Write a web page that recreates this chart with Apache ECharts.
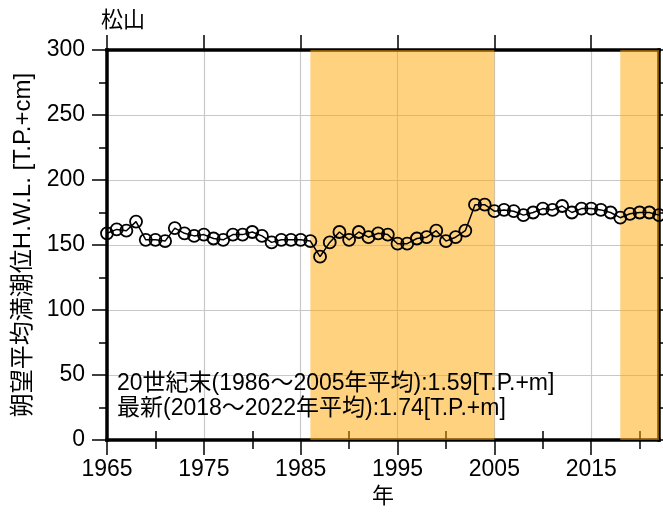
<!DOCTYPE html>
<html>
<head>
<meta charset="utf-8">
<script src="https://cdn.jsdelivr.net/npm/echarts@6/dist/echarts.min.js"></script>
<style>html,body{margin:0;padding:0;background:#fff}#c{width:663px;height:512px}</style>
</head>
<body>
<div id="c"></div>
<script>
const years = [1965,1966,1967,1968,1969,1970,1971,1972,1973,1974,1975,1976,1977,1978,1979,1980,1981,1982,1983,1984,1985,1986,1987,1988,1989,1990,1991,1992,1993,1994,1995,1996,1997,1998,1999,2000,2001,2002,2003,2004,2005,2006,2007,2008,2009,2010,2011,2012,2013,2014,2015,2016,2017,2018,2019,2020,2021,2022];
const hwl = [159,162,161,168,154,154,153,163,159,157,158,155,154,158,158,160,157,152,154,154,154,153,141,152,160,154,160,156,159,158,151,151,155,156,161,153,156,161,181,181,176,177,176,173,175,178,177,180,175,178,178,177,175,171,174,175,175,173];
const xMajorTicks = [1965,1975,1985,1995,2005,2015];
const xMinorTicks = [1970,1980,1990,2000,2010,2020];
const shadePeriods = [[1986,2005],[2018,2022]];
const notes = ['20世紀末(1986～2005年平均):1.59[T.P.+m]','最新(2018～2022年平均):1.74[T.P.+m]'];
const titleText = '松山';
const yName = '朔望平均満潮位H.W.L. [T.P.+cm]';
const xName = '年';

const FF = "'Liberation Sans', Arial, 'Noto Sans CJK JP', sans-serif";
const chart = echarts.init(document.getElementById('c'), null, {renderer:'canvas'});
const axisLine = {show:true, onZero:false, lineStyle:{color:'#000', width:3.5, cap:'square'}};
const xBase = {type:'value', min:1965, max:2022, interval:10, gridIndex:0};
const yBase = {type:'value', min:0, max:300, interval:50};
const plain = v => String(v);

chart.setOption({
  animation:false,
  backgroundColor:'#fff',
  textStyle:{fontFamily:FF},
  title:{text:titleText, left:96, top:5, textStyle:{fontSize:22, fontWeight:'normal', color:'#000', fontFamily:FF}},
  grid:{left:107, right:4, top:50, bottom:72, containLabel:false, outerBoundsMode:'none'},
  xAxis:[
    Object.assign({}, xBase, {position:'bottom', axisLine,
      axisTick:{show:true, inside:false, length:15, customValues:xMajorTicks, lineStyle:{color:'#000', width:1.5}},
      axisLabel:{show:true, customValues:xMajorTicks, formatter:plain, fontSize:23, color:'#000', margin:18, fontFamily:FF},
      splitLine:{show:true, lineStyle:{color:'#c8c8c8', width:1.2}},
      name:xName, nameLocation:'middle', nameGap:44, nameTextStyle:{fontSize:22, color:'#000', fontFamily:FF}}),
    Object.assign({}, xBase, {position:'bottom', axisLine:{show:false},
      axisTick:{show:true, inside:false, length:9, customValues:xMinorTicks, lineStyle:{color:'#000', width:1.5}},
      axisLabel:{show:false}, splitLine:{show:false}}),
    Object.assign({}, xBase, {position:'top', axisLine,
      axisTick:{show:true, inside:false, length:15, customValues:xMajorTicks, lineStyle:{color:'#000', width:1.5}},
      axisLabel:{show:false}, splitLine:{show:false}}),
    Object.assign({}, xBase, {position:'top', axisLine:{show:false},
      axisTick:{show:true, inside:false, length:9, customValues:xMinorTicks, lineStyle:{color:'#000', width:1.5}},
      axisLabel:{show:false}, splitLine:{show:false}})
  ],
  yAxis:[
    Object.assign({}, yBase, {position:'left', axisLine,
      axisTick:{show:true, inside:false, length:15, lineStyle:{color:'#000', width:1.5}},
      minorTick:{show:true, splitNumber:2, length:8, lineStyle:{color:'#000', width:1.5}},
      axisLabel:{show:true, formatter:plain, fontSize:23, color:'#000', margin:22, fontFamily:FF},
      splitLine:{show:true, lineStyle:{color:'#c8c8c8', width:1.2}},
      name:yName, nameLocation:'middle', nameGap:68, nameTextStyle:{fontSize:24, color:'#000', fontFamily:FF}}),
    Object.assign({}, yBase, {position:'right', axisLine,
      axisTick:{show:true, inside:false, length:15, lineStyle:{color:'#000', width:1.5}},
      minorTick:{show:true, splitNumber:2, length:8, lineStyle:{color:'#000', width:1.5}},
      axisLabel:{show:false}, splitLine:{show:false}})
  ],
  series:[{
    type:'line', xAxisIndex:0, yAxisIndex:0,
    data: years.map((y,i)=>[y, hwl[i]]),
    symbol:'circle', symbolSize:12, showAllSymbol:true,
    itemStyle:{color:'rgba(0,0,0,0)', borderColor:'#000', borderWidth:1.8},
    lineStyle:{color:'#000', width:1.5},
    emphasis:{disabled:true},
    markArea:{silent:true, itemStyle:{color:'rgba(255,165,0,0.5)'},
      data: shadePeriods.map(p=>[{xAxis:p[0]},{xAxis:p[1]}])},
    z:3
  }],
  graphic:[
    {type:'text', left:117, top:372, style:{text:notes[0], fontSize:23, fill:'#000', fontFamily:FF}, z:10},
    {type:'text', left:117, top:397, style:{text:notes[1], fontSize:23, fill:'#000', fontFamily:FF}, z:10}
  ]
});
</script>
</body>
</html>
